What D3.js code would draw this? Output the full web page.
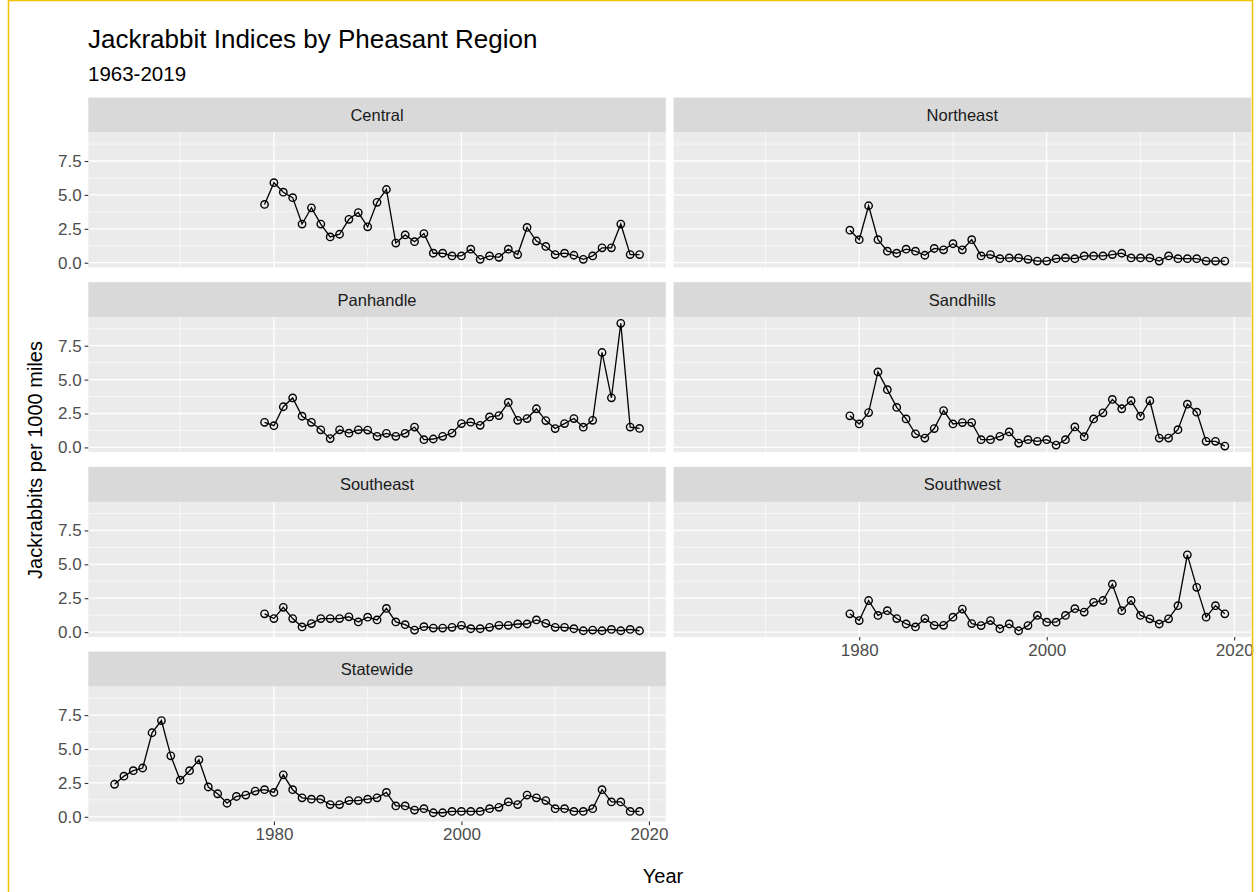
<!DOCTYPE html>
<html>
<head>
<meta charset="utf-8">
<script src="https://cdn.jsdelivr.net/npm/d3@7"></script>
<style>
  body { margin: 0; background: #fff; }
  svg text { font-family: "Liberation Sans", Arial, sans-serif; }
</style>
</head>
<body>
<script>
// Jackrabbit indices (per 1000 miles)
var regions = ["Central", "Northeast", "Panhandle", "Sandhills", "Southeast", "Southwest", "Statewide"];

var regionYears = d3.range(1979, 2020);   // 1979..2019
var statewideYears = d3.range(1963, 2020); // 1963..2019

var central = [4.3, 5.9, 5.2, 4.8, 2.85, 4.05, 2.85, 1.9, 2.1, 3.2, 3.7, 2.65, 4.45, 5.4, 1.45, 2.05, 1.55, 2.15, 0.7, 0.7,
  0.5, 0.5, 1.0, 0.25, 0.5, 0.4, 1.0, 0.6, 2.6, 1.6, 1.2, 0.6, 0.7, 0.55, 0.25, 0.5, 1.1, 1.1, 2.85, 0.6, 0.6];
var northeast = [2.4, 1.7, 4.2, 1.7, 0.85, 0.7, 1.0, 0.85, 0.55, 1.05, 0.95, 1.4, 0.95, 1.7, 0.5, 0.6, 0.3, 0.35, 0.35, 0.25,
  0.12, 0.12, 0.3, 0.35, 0.3, 0.5, 0.5, 0.5, 0.6, 0.7, 0.35, 0.35, 0.35, 0.12, 0.5, 0.3, 0.3, 0.3, 0.12, 0.12, 0.12];
var panhandle = [1.85, 1.6, 3.0, 3.65, 2.3, 1.85, 1.3, 0.65, 1.3, 1.05, 1.3, 1.28, 0.82, 1.04, 0.82, 1.04, 1.5, 0.57, 0.62, 0.82,
  1.06, 1.76, 1.86, 1.63, 2.25, 2.35, 3.32, 2.0, 2.13, 2.85, 1.98, 1.39, 1.76, 2.13, 1.49, 2.0, 7.0, 3.66, 9.15, 1.5, 1.4];
var sandhills = [2.33, 1.73, 2.57, 5.57, 4.26, 2.95, 2.1, 1.0, 0.69, 1.39, 2.72, 1.73, 1.83, 1.83, 0.57, 0.57, 0.82, 1.14, 0.32, 0.57,
  0.45, 0.57, 0.17, 0.57, 1.51, 0.79, 2.1, 2.55, 3.54, 2.85, 3.44, 2.3, 3.44, 0.69, 0.69, 1.31, 3.19, 2.6, 0.45, 0.45, 0.1];
var southeast = [1.35, 1.0, 1.83, 1.0, 0.38, 0.63, 1.0, 1.0, 1.0, 1.13, 0.75, 1.1, 0.9, 1.75, 0.75, 0.55, 0.15, 0.4, 0.3, 0.3,
  0.35, 0.5, 0.25, 0.25, 0.35, 0.5, 0.5, 0.6, 0.6, 0.9, 0.65, 0.35, 0.35, 0.25, 0.1, 0.15, 0.1, 0.2, 0.1, 0.2, 0.1];
var southwest = [1.35, 0.85, 2.33, 1.23, 1.58, 1.0, 0.6, 0.38, 1.0, 0.5, 0.5, 1.1, 1.7, 0.63, 0.48, 0.85, 0.25, 0.6, 0.1, 0.48,
  1.23, 0.73, 0.73, 1.23, 1.73, 1.48, 2.2, 2.33, 3.53, 1.58, 2.33, 1.23, 0.98, 0.6, 0.98, 1.95, 5.7, 3.3, 1.1, 1.95, 1.35];
var statewide = [2.4, 3.0, 3.4, 3.6, 6.2, 7.1, 4.5, 2.7, 3.4, 4.2, 2.2, 1.7, 1.0, 1.5, 1.6, 1.9, 2.0, 1.8, 3.1, 2.0,
  1.4, 1.3, 1.3, 0.9, 0.9, 1.2, 1.2, 1.3, 1.4, 1.8, 0.8, 0.8, 0.5, 0.6, 0.3, 0.3, 0.4, 0.4, 0.4, 0.4,
  0.6, 0.7, 1.1, 0.9, 1.6, 1.4, 1.2, 0.6, 0.6, 0.4, 0.4, 0.6, 2.0, 1.1, 1.1, 0.4, 0.4];

var yTicks = [0, 2.5, 5, 7.5];
var yMinor = [1.25, 3.75, 6.25, 8.75];
var xTicks = [1980, 2000, 2020];
var xMinor = [1970, 1990, 2010];

var seriesValues = [central, northeast, panhandle, sandhills, southeast, southwest, statewide];
var series = regions.map(function (r, i) {
  var yrs = r === "Statewide" ? statewideYears : regionYears;
  return { name: r, values: seriesValues[i].map(function (v, j) { return { year: yrs[j], value: v }; }) };
});

// layout
var width = 1259, height = 892;
var colX = [88.3, 673.6], panelW = 577.5;
var rowY = [97.5, 282.2, 466.9, 651.6], stripH = 35, panelH = 135;
var tickFont = 17, stripFont = 16.5;

var svg = d3.select("body").append("svg")
  .attr("width", width)
  .attr("height", height);

svg.append("rect").attr("x", 0).attr("y", 0).attr("width", width).attr("height", height).attr("fill", "#fff");

// y scale shared (ggplot 5% expansion)
var allVals = d3.merge(seriesValues);
var yExt = d3.extent(allVals), yPad = (yExt[1] - yExt[0]) * 0.05;
var xExt = [1963, 2019], xPad = (xExt[1] - xExt[0]) * 0.05;

var line = d3.line();

series.forEach(function (s, i) {
  var col = i % 2, row = Math.floor(i / 2);
  var px = colX[col], top = rowY[row] + stripH;
  var x = d3.scaleLinear().domain([xExt[0] - xPad, xExt[1] + xPad]).range([px, px + panelW]);
  var y = d3.scaleLinear().domain([yExt[0] - yPad, yExt[1] + yPad]).range([top + panelH, top]);

  // strip
  svg.append("rect").attr("x", px).attr("y", rowY[row]).attr("width", panelW).attr("height", stripH).attr("fill", "#d9d9d9");
  svg.append("text").attr("x", px + panelW / 2).attr("y", rowY[row] + stripH / 2 + 6)
    .attr("text-anchor", "middle").attr("font-size", stripFont).attr("fill", "#1a1a1a").text(s.name);

  var g = svg.append("g");
  g.append("rect").attr("x", px).attr("y", top).attr("width", panelW).attr("height", panelH).attr("fill", "#ebebeb");

  // grid
  g.selectAll(".ymin").data(yMinor).enter().append("line")
    .attr("x1", px).attr("x2", px + panelW).attr("y1", y).attr("y2", y)
    .attr("stroke", "#fff").attr("stroke-width", 0.6);
  g.selectAll(".xmin").data(xMinor).enter().append("line")
    .attr("y1", top).attr("y2", top + panelH).attr("x1", x).attr("x2", x)
    .attr("stroke", "#fff").attr("stroke-width", 0.6);
  g.selectAll(".ymaj").data(yTicks).enter().append("line")
    .attr("x1", px).attr("x2", px + panelW).attr("y1", y).attr("y2", y)
    .attr("stroke", "#fff").attr("stroke-width", 1.3);
  g.selectAll(".xmaj").data(xTicks).enter().append("line")
    .attr("y1", top).attr("y2", top + panelH).attr("x1", x).attr("x2", x)
    .attr("stroke", "#fff").attr("stroke-width", 1.3);

  // data
  line.x(function (d) { return x(d.year); }).y(function (d) { return y(d.value); });
  g.append("path").datum(s.values).attr("d", line)
    .attr("fill", "none").attr("stroke", "#000").attr("stroke-width", 1.3);
  g.selectAll("circle").data(s.values).enter().append("circle")
    .attr("cx", function (d) { return x(d.year); })
    .attr("cy", function (d) { return y(d.value); })
    .attr("r", 3.7).attr("fill", "none").attr("stroke", "#000").attr("stroke-width", 1.4);

  // y axis on left column
  if (col === 0) {
    var ya = svg.append("g").attr("transform", "translate(" + px + ",0)")
      .call(d3.axisLeft(y).tickValues(yTicks).tickFormat(d3.format(".1f")).tickSize(3.7).tickPadding(3));
    ya.select(".domain").remove();
    ya.selectAll(".tick line").attr("stroke", "#333").attr("stroke-width", 1.1);
    ya.selectAll(".tick text").attr("fill", "#4d4d4d").attr("font-size", tickFont)
      .style("font-family", "Liberation Sans, Arial, sans-serif");
  }
  // x axis at bottom of each column
  if ((col === 0 && row === 3) || (col === 1 && row === 2)) {
    var xa = svg.append("g").attr("transform", "translate(0," + (top + panelH) + ")")
      .call(d3.axisBottom(x).tickValues(xTicks).tickFormat(d3.format("d")).tickSize(3.7).tickPadding(3));
    xa.select(".domain").remove();
    xa.selectAll(".tick line").attr("stroke", "#333").attr("stroke-width", 1.1);
    xa.selectAll(".tick text").attr("fill", "#4d4d4d").attr("font-size", tickFont)
      .style("font-family", "Liberation Sans, Arial, sans-serif");
  }
});

// titles
svg.append("text").attr("x", 88).attr("y", 48).attr("font-size", 26).attr("fill", "#000")
  .text("Jackrabbit Indices by Pheasant Region");
svg.append("text").attr("x", 88).attr("y", 81).attr("font-size", 20.5).attr("fill", "#000")
  .text("1963-2019");
svg.append("text").attr("x", 663).attr("y", 883).attr("text-anchor", "middle").attr("font-size", 20).attr("fill", "#000")
  .text("Year");
svg.append("text").attr("transform", "translate(42,460) rotate(-90)").attr("text-anchor", "middle")
  .attr("font-size", 20).attr("fill", "#000").text("Jackrabbits per 1000 miles");

// outer frame
svg.append("rect").attr("x", 8.5).attr("y", 0.5).attr("width", 1244).attr("height", 900)
  .attr("fill", "none").attr("stroke", "#f2c200").attr("stroke-width", 1.5);
</script>
</body>
</html>
